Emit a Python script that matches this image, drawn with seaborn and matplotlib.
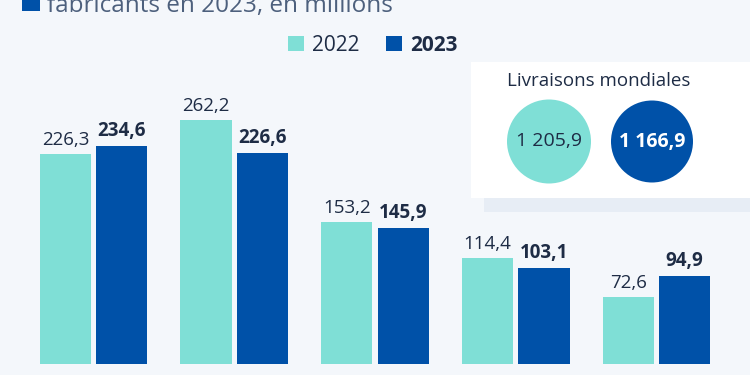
import matplotlib
matplotlib.use("Agg")
import matplotlib.pyplot as plt
from matplotlib.patches import Rectangle, Ellipse
import pandas as pd
import seaborn as sns

# data
fabricants = ["Apple", "Samsung", "Xiaomi", "Oppo", "Transsion"]
annees = ["2022", "2023"]
livraisons_2022 = [226.3, 262.2, 153.2, 114.4, 72.6]
livraisons_2023 = [234.6, 226.6, 145.9, 103.1, 94.9]
totaux = ["1 205,9", "1 166,9"]

bg = "#f4f7fb"
teal = "#7fdfd6"
blue = "#0051a8"
dark = "#1e2c45"
title_col = "#4d607d"

df = pd.DataFrame({
	"fabricant": fabricants * 2,
	"annee": [annees[0]] * 5 + [annees[1]] * 5,
	"livraisons": livraisons_2022 + livraisons_2023,
})

sns.set_theme(style="white")
plt.rcParams["font.family"] = ["Open Sans", "DejaVu Sans"]

W, H = 750, 375
fig = plt.figure(figsize=(7.5, 3.75), dpi=100, facecolor=bg)
ax = fig.add_axes([0, 0, 1, 1])


def fx(px):
	return px / W


def fy(py):
	return 1 - py / H


sns.barplot(data=df, x="fabricant", y="livraisons", hue="annee",
			palette=[teal, blue], saturation=1, width=0.8, gap=0.09,
			errorbar=None, linewidth=0, legend=False, ax=ax)
ax.set_xlim(-0.664, 4.664)
ax.set_ylim(-11.8, 391.4)
ax.axis("off")

fmt = lambda v: f"{v:.1f}".replace(".", ",")
ax.bar_label(ax.containers[0], labels=[fmt(v) for v in livraisons_2022],
			 padding=3.6, fontsize=13.5, color=dark)
ax.bar_label(ax.containers[1], labels=[fmt(v) for v in livraisons_2023],
			 padding=3.6, fontsize=13.5, color=dark, fontweight="bold")

# title (cut at the top, as in the source)
fig.add_artist(Rectangle((fx(22), fy(11)), fx(18), 18 / H, color=blue, lw=0))
fig.text(fx(47), fy(12), "fabricants en 2023, en millions", fontsize=17.5,
		 color=title_col, va="baseline", ha="left")

# legend
fig.add_artist(Rectangle((fx(288), fy(51)), fx(16), 15 / H, color=teal, lw=0))
fig.text(fx(312), fy(51), annees[0], fontsize=15, color=dark, va="baseline")
fig.add_artist(Rectangle((fx(386), fy(51)), fx(16), 15 / H, color=blue, lw=0))
fig.text(fx(410), fy(51), annees[1], fontsize=15, color=dark, va="baseline",
		 fontweight="bold")

# inset box with totals
fig.add_artist(Rectangle((fx(484), fy(212)), fx(280), 14 / H, color="#e7edf5", lw=0))
fig.add_artist(Rectangle((fx(471), fy(198)), fx(290), 136 / H, color="white", lw=0))
fig.text(fx(599), fy(86), "Livraisons mondiales", fontsize=13.5, color=dark,
		 ha="center", va="baseline")
fig.add_artist(Ellipse((fx(549), fy(141.5)), fx(84), 84 / H, color=teal, lw=0))
fig.add_artist(Ellipse((fx(652), fy(141.5)), fx(82), 82 / H, color=blue, lw=0))
fig.text(fx(549), fy(141.5), totaux[0], fontsize=14, color=dark,
		 ha="center", va="center")
fig.text(fx(652), fy(141.5), totaux[1], fontsize=14, color="white",
		 ha="center", va="center", fontweight="bold")

fig.savefig("out.png", dpi=100, facecolor=bg)
